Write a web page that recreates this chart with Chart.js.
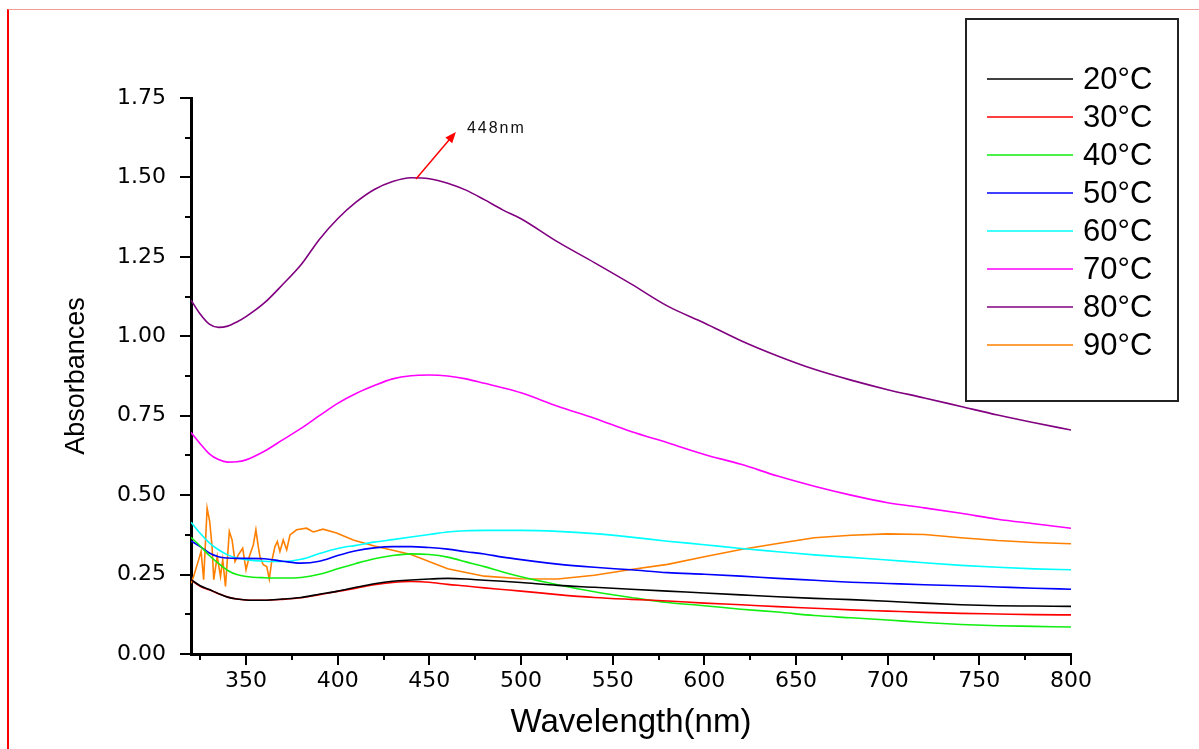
<!DOCTYPE html>
<html>
<head>
<meta charset="utf-8">
<title>Absorbance spectra</title>
<script src="https://cdn.jsdelivr.net/npm/chart.js@4.4.1/dist/chart.umd.min.js"></script>
<style>
  html, body { margin: 0; padding: 0; background: #fff; }
  #wrap { position: relative; width: 1199px; height: 749px; overflow: hidden; }
  #frame { position: absolute; left: 7px; top: 9px; right: 0; bottom: 0;
           border-left: 2px solid #f00; border-top: 1px solid #f29b9b; }
  #chart { position: absolute; left: 0; top: 0; }
</style>
</head>
<body>
<div id="wrap">
  <div id="frame"></div>
  <canvas id="chart" width="1199" height="749"></canvas>
</div>
<script>
// wavelength grid (nm) shared by the smooth curves
const wavelengths = [320, 325, 330, 335, 340, 345, 350, 360, 370, 380, 390, 400, 410, 420, 430, 440, 450,
  460, 470, 480, 490, 500, 520, 540, 560, 580, 600, 620, 640, 660, 680, 700, 720, 740, 760, 780, 800];

const abs20 = [0.234, 0.215, 0.203, 0.190, 0.179, 0.173, 0.170, 0.169, 0.173, 0.178, 0.188, 0.198, 0.210, 0.221, 0.229, 0.233, 0.236,
  0.238, 0.236, 0.232, 0.229, 0.225, 0.216, 0.210, 0.204, 0.198, 0.192, 0.186, 0.180, 0.175, 0.171, 0.166, 0.160, 0.155, 0.152, 0.151, 0.150];
const abs30 = [0.234, 0.213, 0.202, 0.190, 0.179, 0.173, 0.170, 0.169, 0.172, 0.177, 0.187, 0.197, 0.207, 0.218, 0.225, 0.228, 0.226,
  0.219, 0.214, 0.208, 0.203, 0.198, 0.187, 0.178, 0.172, 0.167, 0.160, 0.155, 0.149, 0.144, 0.139, 0.135, 0.131, 0.128, 0.126, 0.124, 0.123];
const abs40 = [0.367, 0.340, 0.310, 0.285, 0.263, 0.250, 0.244, 0.240, 0.239, 0.241, 0.251, 0.268, 0.285, 0.300, 0.310, 0.315, 0.313,
  0.305, 0.290, 0.275, 0.258, 0.243, 0.218, 0.196, 0.178, 0.162, 0.152, 0.141, 0.132, 0.121, 0.114, 0.107, 0.099, 0.093, 0.089, 0.087, 0.085];
const abs50 = [0.356, 0.338, 0.318, 0.306, 0.302, 0.301, 0.301, 0.300, 0.292, 0.286, 0.292, 0.310, 0.325, 0.334, 0.338, 0.338, 0.335,
  0.330, 0.322, 0.315, 0.305, 0.297, 0.283, 0.273, 0.265, 0.256, 0.251, 0.245, 0.238, 0.232, 0.226, 0.222, 0.218, 0.215, 0.211, 0.207, 0.204];
const abs60 = [0.415, 0.380, 0.350, 0.328, 0.312, 0.302, 0.297, 0.292, 0.291, 0.298, 0.316, 0.332, 0.342, 0.352, 0.360, 0.368, 0.376,
  0.384, 0.388, 0.389, 0.389, 0.389, 0.386, 0.379, 0.368, 0.355, 0.344, 0.332, 0.322, 0.312, 0.304, 0.296, 0.287, 0.279, 0.273, 0.268, 0.265];
const abs70 = [0.697, 0.662, 0.630, 0.612, 0.604, 0.605, 0.611, 0.638, 0.674, 0.710, 0.750, 0.789, 0.820, 0.845, 0.866, 0.876, 0.878,
  0.875, 0.866, 0.852, 0.838, 0.822, 0.780, 0.742, 0.700, 0.665, 0.628, 0.597, 0.560, 0.528, 0.500, 0.476, 0.460, 0.443, 0.424, 0.410, 0.396];
const abs80 = [1.114, 1.070, 1.038, 1.028, 1.032, 1.045, 1.062, 1.105, 1.163, 1.225, 1.305, 1.370, 1.422, 1.462, 1.487, 1.499, 1.496,
  1.482, 1.460, 1.430, 1.398, 1.370, 1.297, 1.232, 1.165, 1.095, 1.042, 0.986, 0.938, 0.896, 0.862, 0.832, 0.806, 0.779, 0.752, 0.728, 0.705];

// the 90 °C trace is noisy below ~375 nm, so it has its own wavelength list
const wl90 = [320, 321.4, 324.2, 325.5, 326.9, 328.8, 330.2, 331.5, 332.4, 334.3, 336.1, 337.3, 338.8, 339.7, 340.9, 342.4,
  344, 345.8, 348.2, 350, 351.8, 354, 355.4, 356.7, 357.6, 359.4, 361.3, 362.7, 364, 365.8, 367.1, 368.5, 370.3, 372.2,
  374, 377.6, 383, 386.7, 392, 399.4, 408.5, 420, 440, 460, 480, 500, 520, 540, 560, 580, 600, 620, 640, 660, 680, 700,
  720, 740, 760, 780, 800];
const abs90 = [0.223, 0.244, 0.297, 0.323, 0.234, 0.459, 0.417, 0.338, 0.234, 0.307, 0.244, 0.297, 0.213, 0.286, 0.386, 0.359,
  0.291, 0.312, 0.333, 0.265, 0.307, 0.344, 0.391, 0.338, 0.307, 0.281, 0.275, 0.236, 0.291, 0.338, 0.354, 0.323, 0.359, 0.328,
  0.375, 0.391, 0.396, 0.384, 0.393, 0.381, 0.359, 0.340, 0.313, 0.268, 0.245, 0.237, 0.236, 0.248, 0.266, 0.282, 0.306,
  0.329, 0.348, 0.366, 0.374, 0.378, 0.376, 0.366, 0.357, 0.351, 0.347];

const seriesLabels = ['20°C', '30°C', '40°C', '50°C', '60°C', '70°C', '80°C', '90°C'];
const seriesColors = ['#000000', '#ff0000', '#11ee11', '#0000ff', '#00ffff', '#ff00ff', '#800080', '#ff8000'];

const xTickValues = [350, 400, 450, 500, 550, 600, 650, 700, 750, 800];
const yTickValues = [0, 0.25, 0.5, 0.75, 1.0, 1.25, 1.5, 1.75];

// peak annotation (data units)
const peakLabel = '448nm';
const peakArrowFrom = { x: 442.7, y: 1.495 };
const peakArrowTo = { x: 464.5, y: 1.643 };
const peakTextAt = { x: 470.5, y: 1.655 };

function pairs(xs, ys) {
  return xs.map((x, i) => ({ x: x, y: ys[i] }));
}

const smoothSets = [abs20, abs30, abs40, abs50, abs60, abs70, abs80];
const datasets = smoothSets.map((ys, i) => ({
  label: seriesLabels[i],
  data: pairs(wavelengths, ys),
  borderColor: seriesColors[i],
  borderWidth: 1.6,
  pointRadius: 0,
  cubicInterpolationMode: 'monotone',
  fill: false
}));
datasets.push({
  label: seriesLabels[7],
  data: pairs(wl90, abs90),
  borderColor: seriesColors[7],
  borderWidth: 1.6,
  pointRadius: 0,
  tension: 0,
  fill: false
});

// small outward ticks, major every 50 nm / 0.25, minor in between
const axisTicks = {
  id: 'axisTicks',
  afterDraw(chart) {
    const { ctx, chartArea, scales: { x, y } } = chart;
    ctx.save();
    ctx.strokeStyle = '#000';
    ctx.lineWidth = 2;
    ctx.beginPath();
    for (let v = 325; v <= 800; v += 25) {
      const px = Math.round(x.getPixelForValue(v));
      const len = v % 50 === 0 ? 11 : 6;
      ctx.moveTo(px, chartArea.bottom);
      ctx.lineTo(px, chartArea.bottom + len);
    }
    for (let i = 0; i <= 14; i++) {
      const v = i * 0.125;
      const py = Math.round(y.getPixelForValue(v));
      const len = i % 2 === 0 ? 11 : 6;
      ctx.moveTo(chartArea.left, py);
      ctx.lineTo(chartArea.left - len, py);
    }
    ctx.stroke();
    ctx.restore();
  }
};

// boxed legend in the top right corner
const boxLegend = {
  id: 'boxLegend',
  afterDraw(chart) {
    const ctx = chart.ctx;
    ctx.save();
    ctx.strokeStyle = '#222';
    ctx.lineWidth = 2;
    ctx.strokeRect(966, 19, 212, 382);
    ctx.font = '31px "Liberation Sans", Arial, sans-serif';
    ctx.textBaseline = 'middle';
    ctx.textAlign = 'left';
    chart.data.datasets.forEach((ds, i) => {
      const ry = 79 + i * 38;
      ctx.strokeStyle = ds.borderColor;
      ctx.lineWidth = 1.6;
      ctx.beginPath();
      ctx.moveTo(987, ry);
      ctx.lineTo(1073, ry);
      ctx.stroke();
      ctx.fillStyle = '#000';
      ctx.fillText(ds.label, 1083, ry + 1);
    });
    ctx.restore();
  }
};

// red arrow pointing at the 80 °C peak
const peakNote = {
  id: 'peakNote',
  afterDatasetsDraw(chart) {
    const { ctx, scales: { x, y } } = chart;
    const x0 = x.getPixelForValue(peakArrowFrom.x), y0 = y.getPixelForValue(peakArrowFrom.y);
    const x1 = x.getPixelForValue(peakArrowTo.x), y1 = y.getPixelForValue(peakArrowTo.y);
    const ang = Math.atan2(y1 - y0, x1 - x0);
    ctx.save();
    ctx.strokeStyle = '#ff0000';
    ctx.fillStyle = '#ff0000';
    ctx.lineWidth = 1.5;
    ctx.beginPath();
    ctx.moveTo(x0, y0);
    ctx.lineTo(x1 - 8 * Math.cos(ang), y1 - 8 * Math.sin(ang));
    ctx.stroke();
    ctx.beginPath();
    ctx.moveTo(x1, y1);
    ctx.lineTo(x1 - 11 * Math.cos(ang) + 4.5 * Math.sin(ang), y1 - 11 * Math.sin(ang) - 4.5 * Math.cos(ang));
    ctx.lineTo(x1 - 11 * Math.cos(ang) - 4.5 * Math.sin(ang), y1 - 11 * Math.sin(ang) + 4.5 * Math.cos(ang));
    ctx.closePath();
    ctx.fill();
    ctx.fillStyle = '#111';
    ctx.font = '16px "Liberation Sans", Arial, sans-serif';
    ctx.letterSpacing = '2px';
    ctx.textBaseline = 'middle';
    ctx.fillText(peakLabel, x.getPixelForValue(peakTextAt.x), y.getPixelForValue(peakTextAt.y));
    ctx.restore();
  }
};

const tickFont = { family: '"DejaVu Sans", sans-serif', size: 22 };

new Chart(document.getElementById('chart'), {
  type: 'line',
  data: { datasets: datasets },
  options: {
    responsive: false,
    animation: false,
    layout: { padding: { left: 0, right: 128, top: 98, bottom: 0 } },
    plugins: { legend: { display: false }, tooltip: { enabled: false } },
    scales: {
      x: {
        type: 'linear',
        min: 320,
        max: 800,
        afterBuildTicks: s => { s.ticks = xTickValues.map(v => ({ value: v })); },
        afterFit: s => { s.height = 95; },
        ticks: { font: tickFont, color: '#000', padding: 14, maxRotation: 0, autoSkip: false },
        grid: { display: false, drawTicks: false },
        border: { display: true, color: '#000', width: 3 },
        title: {
          display: true,
          text: 'Wavelength(nm)',
          color: '#000',
          font: { family: '"Liberation Sans", Arial, sans-serif', size: 33 },
          padding: { top: 0, bottom: 6 }
        }
      },
      y: {
        type: 'linear',
        min: 0,
        max: 1.75,
        afterBuildTicks: s => { s.ticks = yTickValues.map(v => ({ value: v })); },
        afterFit: s => { s.width = 191; },
        ticks: { font: tickFont, color: '#000', padding: 25, callback: v => v.toFixed(2) },
        grid: { display: false, drawTicks: false },
        border: { display: true, color: '#000', width: 3 },
        title: {
          display: true,
          text: 'Absorbances',
          color: '#000',
          font: { family: '"Liberation Sans", Arial, sans-serif', size: 27 },
          padding: { top: 60, bottom: 0 }
        }
      }
    }
  },
  plugins: [axisTicks, boxLegend, peakNote]
});
</script>
</body>
</html>
